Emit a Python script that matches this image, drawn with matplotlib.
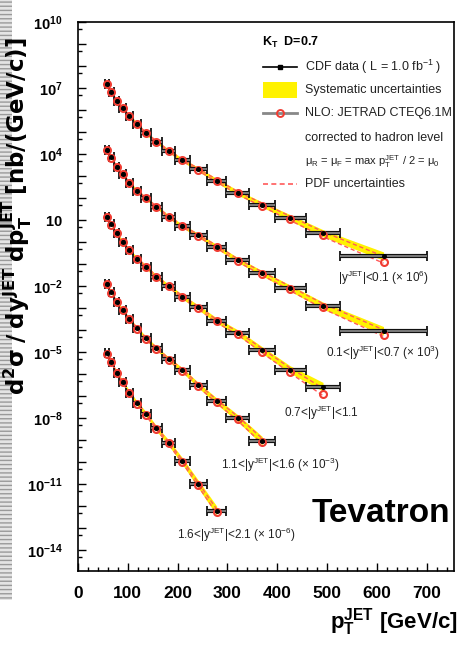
import numpy as np
import matplotlib
matplotlib.use('Agg')
import matplotlib.pyplot as plt
from matplotlib.lines import Line2D
from matplotlib.patches import Rectangle
from matplotlib.ticker import LogLocator, MultipleLocator, FuncFormatter, NullFormatter

plt.rcParams['font.family'] = ['Liberation Sans', 'DejaVu Sans']
plt.rcParams['mathtext.fontset'] = 'custom'
plt.rcParams['mathtext.rm'] = 'Liberation Sans'
plt.rcParams['mathtext.it'] = 'Liberation Sans:italic'
plt.rcParams['mathtext.bf'] = 'Liberation Sans:bold'
plt.rcParams['mathtext.sf'] = 'Liberation Sans'
plt.rcParams['mathtext.default'] = 'rm'

# ---------------- data (log10 of plotted value, scale factors included) ----
pt_edges = [54, 62, 72, 83, 96, 110, 127, 146, 169, 195, 224, 259, 298, 344,
            396, 457, 527, 700]

data_y01 = [7.18, 6.83, 6.42, 6.10, 5.74, 5.36, 4.94, 4.56, 4.14, 3.73, 3.30,
            2.79, 2.24, 1.70, 1.10, 0.40, -0.64]
data_y07 = [4.18, 3.85, 3.42, 3.08, 2.70, 2.33, 1.99, 1.60, 1.15, 0.73, 0.30,
            -0.21, -0.82, -1.42, -2.10, -2.89, -4.03]
data_y11 = [1.15, 0.80, 0.40, 0.02, -0.37, -0.75, -1.12, -1.58, -2.00, -2.49,
            -2.97, -3.57, -4.12, -4.91, -5.80, -6.58]
data_y16 = [-1.91, -2.29, -2.71, -3.09, -3.51, -3.92, -4.38, -4.83, -5.33,
            -5.82, -6.50, -7.23, -8.01, -9.03]
data_y21 = [-5.06, -5.44, -5.94, -6.35, -6.84, -7.33, -7.82, -8.47, -9.12,
            -9.95, -11.00, -12.21]

nlo_y01 = [7.17, 6.82, 6.42, 6.09, 5.73, 5.35, 4.94, 4.55, 4.13, 3.72, 3.28,
           2.77, 2.21, 1.66, 1.04, 0.30, -0.90]
nlo_y07 = [4.17, 3.84, 3.42, 3.07, 2.69, 2.32, 1.98, 1.59, 1.14, 0.72, 0.28,
           -0.23, -0.85, -1.46, -2.15, -2.97, -4.23]
nlo_y11 = [1.14, 0.79, 0.39, 0.01, -0.38, -0.76, -1.13, -1.59, -2.02, -2.51,
           -3.00, -3.61, -4.17, -4.98, -5.90, -6.91]
nlo_y16 = [-1.92, -2.30, -2.72, -3.10, -3.52, -3.93, -4.39, -4.84, -5.35,
           -5.84, -6.53, -7.27, -8.06, -9.10]
nlo_y21 = [-5.07, -5.45, -5.95, -6.36, -6.85, -7.34, -7.84, -8.49, -9.15,
           -9.98, -11.04, -12.27]

# systematic uncertainty (half width, decades)
sys_y01 = [0.06, 0.06, 0.06, 0.06, 0.06, 0.07, 0.07, 0.07, 0.08, 0.08, 0.09,
           0.10, 0.11, 0.12, 0.14, 0.16, 0.19]
sys_y07 = [0.06, 0.06, 0.06, 0.06, 0.06, 0.07, 0.07, 0.07, 0.08, 0.08, 0.09,
           0.10, 0.11, 0.12, 0.14, 0.16, 0.19]
sys_y11 = [0.06, 0.06, 0.06, 0.07, 0.07, 0.07, 0.08, 0.08, 0.09, 0.10, 0.11,
           0.12, 0.13, 0.15, 0.17, 0.20]
sys_y16 = [0.07, 0.07, 0.07, 0.07, 0.08, 0.08, 0.09, 0.09, 0.10, 0.11, 0.12,
           0.14, 0.16, 0.19]
sys_y21 = [0.08, 0.08, 0.08, 0.09, 0.09, 0.10, 0.11, 0.12, 0.13, 0.15, 0.18,
           0.21]

# PDF uncertainty around NLO (decades): up / down
pdfup_y01 = [0.02, 0.02, 0.02, 0.02, 0.03, 0.03, 0.03, 0.04, 0.04, 0.05, 0.06,
             0.07, 0.08, 0.10, 0.13, 0.17, 0.25]
pdfdn_y01 = [0.02, 0.02, 0.02, 0.02, 0.02, 0.02, 0.03, 0.03, 0.03, 0.03, 0.04,
             0.04, 0.05, 0.05, 0.06, 0.06, 0.06]
pdfup_y07 = [0.02, 0.02, 0.02, 0.02, 0.03, 0.03, 0.03, 0.04, 0.04, 0.05, 0.06,
             0.07, 0.08, 0.10, 0.13, 0.17, 0.24]
pdfdn_y07 = [0.02, 0.02, 0.02, 0.02, 0.02, 0.02, 0.03, 0.03, 0.03, 0.03, 0.04,
             0.04, 0.05, 0.05, 0.06, 0.06, 0.06]
pdfup_y11 = [0.02, 0.02, 0.02, 0.03, 0.03, 0.03, 0.04, 0.04, 0.05, 0.06, 0.07,
             0.08, 0.10, 0.13, 0.17, 0.26]
pdfdn_y11 = [0.02, 0.02, 0.02, 0.02, 0.02, 0.03, 0.03, 0.03, 0.03, 0.04, 0.04,
             0.05, 0.05, 0.06, 0.06, 0.07]
pdfup_y16 = [0.02, 0.02, 0.03, 0.03, 0.03, 0.04, 0.04, 0.05, 0.06, 0.07, 0.08,
             0.10, 0.13, 0.17]
pdfdn_y16 = [0.02, 0.02, 0.02, 0.02, 0.03, 0.03, 0.03, 0.03, 0.04, 0.04, 0.05,
             0.05, 0.06, 0.07]
pdfup_y21 = [0.02, 0.03, 0.03, 0.03, 0.04, 0.04, 0.05, 0.06, 0.07, 0.08, 0.10,
             0.13]
pdfdn_y21 = [0.02, 0.02, 0.02, 0.03, 0.03, 0.03, 0.04, 0.04, 0.05, 0.05, 0.06,
             0.07]

bin_labels = [r'|y$^{\rm JET}$|<0.1 ($\times$ 10$^{6}$)',
              r'0.1<|y$^{\rm JET}$|<0.7 ($\times$ 10$^{3}$)',
              r'0.7<|y$^{\rm JET}$|<1.1',
              r'1.1<|y$^{\rm JET}$|<1.6 ($\times$ 10$^{-3}$)',
              r'1.6<|y$^{\rm JET}$|<2.1 ($\times$ 10$^{-6}$)']
label_pt = [614, 613, 489, 407, 319]
label_logy = [-1.64, -5.05, -7.77, -10.14, -13.32]

data_sets = [data_y01, data_y07, data_y11, data_y16, data_y21]
nlo_sets = [nlo_y01, nlo_y07, nlo_y11, nlo_y16, nlo_y21]
sys_sets = [sys_y01, sys_y07, sys_y11, sys_y16, sys_y21]
pdfup_sets = [pdfup_y01, pdfup_y07, pdfup_y11, pdfup_y16, pdfup_y21]
pdfdn_sets = [pdfdn_y01, pdfdn_y07, pdfdn_y11, pdfdn_y16, pdfdn_y21]

# ---------------- figure -------------------------------------------------
W, H = 462, 649
fig = plt.figure(figsize=(W / 100, H / 100), dpi=100)


def fx(x):
    return x / W


def fy(y):
    return 1 - y / H


ax = fig.add_axes([fx(78), fy(571), fx(454) - fx(78), fy(22) - fy(571)])

YELLOW = '#fff200'
RED = '#f03c32'

edges = np.array(pt_edges, dtype=float)
for d, n_, s, pu, pd in zip(data_sets, nlo_sets, sys_sets, pdfup_sets,
                            pdfdn_sets):
    d = np.array(d)
    n_ = np.array(n_)
    s = np.array(s)
    k = len(d)
    lo = edges[:k]
    hi = edges[1:k + 1]
    c = 0.5 * (lo + hi)
    ax.fill_between(c, 10 ** (d - s), 10 ** (d + s), color=YELLOW, lw=0,
                    zorder=1)
    ax.plot(c, 10 ** (n_ + np.array(pu)), ls=(0, (3, 2)), color='#ff5a5a',
            lw=1.0, zorder=2)
    ax.plot(c, 10 ** (n_ - np.array(pd)), ls=(0, (3, 2)), color='#ff5a5a',
            lw=1.0, zorder=2)
    yv = 10 ** d
    ax.errorbar(c, yv, xerr=[c - lo, hi - c], fmt='none', ecolor='#111111',
                elinewidth=3.0, capsize=3.6, capthick=1.3, zorder=3)
    ax.hlines(yv, lo, hi, color='#9a9a9a', lw=1.1, zorder=3.2)
    ax.plot(c, 10 ** n_, 'o', mfc='none', mec=RED, ms=5.0, mew=1.5, zorder=4)
    ax.plot(c, yv, 'o', color='black', ms=2.6, zorder=5)

for lab, lx, ly in zip(bin_labels, label_pt, label_logy):
    ax.text(lx, 10 ** ly, lab, ha='center', va='center', fontsize=8.5,
            color='#222222')

ax.set_xlim(0, 755)
ax.set_yscale('log')
ax.set_ylim(10 ** -14.95, 1e10)

ax.xaxis.set_major_locator(MultipleLocator(100))
ax.xaxis.set_minor_locator(MultipleLocator(20))
ax.yaxis.set_major_locator(LogLocator(base=10, numticks=40))
ax.yaxis.set_minor_locator(LogLocator(base=10, subs=[5.0], numticks=40))
ax.yaxis.set_minor_formatter(NullFormatter())


def yfmt(v, pos):
    e = int(round(np.log10(v)))
    if (e - 1) % 3 != 0:
        return ''
    if e == 1:
        return r'$\mathbf{10}$'
    return r'$\mathbf{10^{%d}}$' % e


ax.yaxis.set_major_formatter(FuncFormatter(yfmt))
ax.tick_params(axis='both', which='both', direction='in', width=1.0)
ax.tick_params(axis='x', labelsize=12.5, pad=11)
ax.tick_params(axis='y', labelsize=10.5, pad=11)
ax.tick_params(axis='both', which='major', length=6)
ax.tick_params(axis='both', which='minor', length=3)
for t in ax.get_xticklabels():
    t.set_fontweight('bold')
for sp in ax.spines.values():
    sp.set_linewidth(1.2)

# axis titles
fig.text(fx(458), fy(622), r'$\mathbf{p_T^{JET}}$ [GeV/c]', ha='right',
         va='center', fontsize=16, fontweight='bold')
fig.text(fx(16.5), fy(216),
         r'$\mathbf{d^2\sigma\;/\;dy^{JET}\;dp_T^{JET}\;[nb/(GeV/c)]}$',
         rotation=90, ha='center', va='center', fontsize=16.5,
         math_fontfamily='dejavusans')

fig.text(fx(381), fy(514), 'Tevatron', ha='center', va='center',
         fontsize=24, fontweight='bold')

# legend (drawn manually to match layout)
fig.text(fx(262), fy(42), r'$\mathbf{K_T}$  D=0.7', ha='left', va='center',
         fontsize=9, fontweight='bold')
hx0, hx1, hxm, tx = 263, 297, 280, 305
fig.add_artist(Line2D([fx(hx0), fx(hx1)], [fy(67), fy(67)], color='black',
                      lw=1.2, transform=fig.transFigure))
fig.add_artist(Line2D([fx(hxm)], [fy(67)], marker='s', color='black', ms=3.5,
                      transform=fig.transFigure))
fig.add_artist(Rectangle((fx(hx0), fy(98)), fx(hx1) - fx(hx0),
                         fy(82) - fy(98), color=YELLOW, lw=0,
                         transform=fig.transFigure))
fig.add_artist(Line2D([fx(hx0), fx(hx1)], [fy(113), fy(113)], color='#888888',
                      lw=2.0, transform=fig.transFigure))
fig.add_artist(Line2D([fx(hxm)], [fy(113)], marker='o', mfc='none', mec=RED,
                      ms=5, mew=1.4, transform=fig.transFigure))
fig.add_artist(Line2D([fx(hx0), fx(hx1)], [fy(184), fy(184)], color='#ff5a5a',
                      lw=1.2, ls=(0, (3, 2)), transform=fig.transFigure))
leg_rows = [(67, r'CDF data ( L = 1.0 fb$^{-1}$ )', 9),
            (90, 'Systematic uncertainties', 9),
            (113, 'NLO: JETRAD CTEQ6.1M', 9),
            (138, 'corrected to hadron level', 9),
            (162, r'$\mu_R$ = $\mu_F$ = max p$_T^{JET}$ / 2 = $\mu_0$', 8),
            (184, 'PDF uncertainties', 9)]
for yy, txt, fs in leg_rows:
    fig.text(fx(tx), fy(yy), txt, ha='left', va='center', fontsize=fs,
             color='#222222')

# grey strip at the left edge of the picture
fig.add_artist(Rectangle((0, fy(600)), fx(12), fy(0) - fy(600),
                         facecolor='#e4e4e4', edgecolor='#9a9a9a', lw=0,
                         hatch='----', transform=fig.transFigure))

fig.savefig('out.png', dpi=100)
